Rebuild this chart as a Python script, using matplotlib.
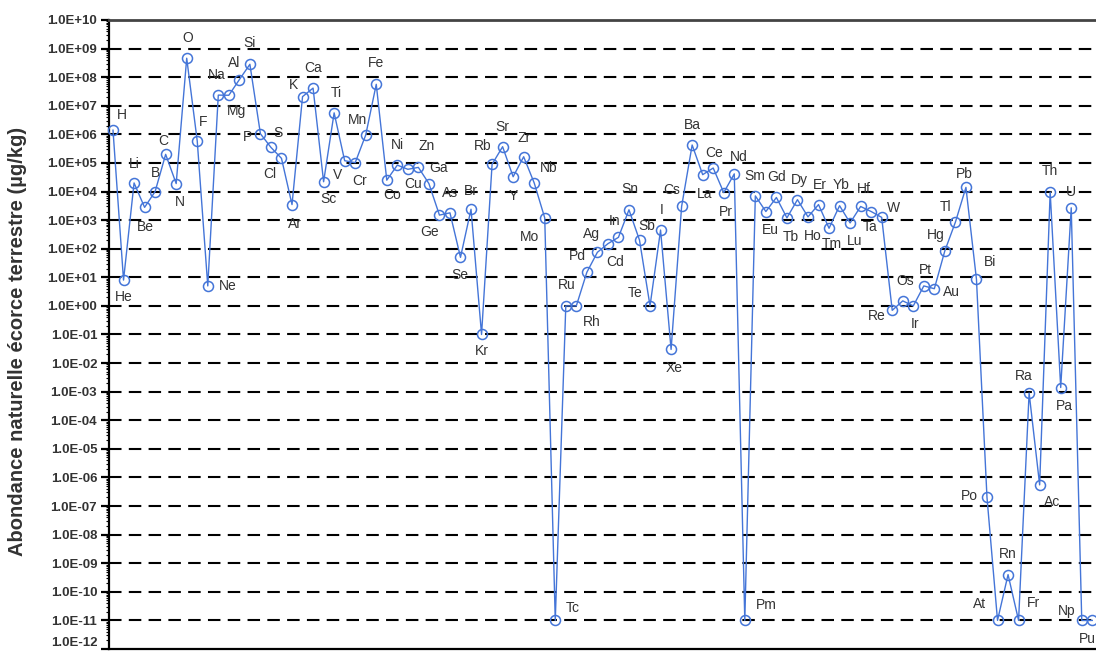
import matplotlib
matplotlib.use("Agg")
import matplotlib.pyplot as plt
from matplotlib.ticker import FixedLocator, LogLocator, FuncFormatter, NullFormatter
import numpy as np

plt.rcParams['font.family'] = ['Liberation Sans', 'DejaVu Sans']

# Element symbols, in order of atomic number (1..94)
elements = [
    "H", "He", "Li", "Be", "B", "C", "N", "O", "F", "Ne",
    "Na", "Mg", "Al", "Si", "P", "S", "Cl", "Ar", "K", "Ca",
    "Sc", "Ti", "V", "Cr", "Mn", "Fe", "Co", "Ni", "Cu", "Zn",
    "Ga", "Ge", "As", "Se", "Br", "Kr", "Rb", "Sr", "Y", "Zr",
    "Nb", "Mo", "Tc", "Ru", "Rh", "Pd", "Ag", "Cd", "In", "Sn",
    "Sb", "Te", "I", "Xe", "Cs", "Ba", "La", "Ce", "Pr", "Nd",
    "Pm", "Sm", "Eu", "Gd", "Tb", "Dy", "Ho", "Er", "Tm", "Yb",
    "Lu", "Hf", "Ta", "W", "Re", "Os", "Ir", "Pt", "Au", "Hg",
    "Tl", "Pb", "Bi", "Po", "At", "Rn", "Fr", "Ra", "Ac", "Th",
    "Pa", "U", "Np", "Pu",
]

# Natural abundance in the Earth's crust (µg/kg)
abundance = [
    1.4e6, 8.0, 2.0e4, 2.8e3, 1.0e4, 2.0e5, 1.9e4, 4.61e8, 5.85e5, 5.0,
    2.36e7, 2.33e7, 8.23e7, 2.82e8, 1.05e6, 3.5e5, 1.45e5, 3.5e3, 2.09e7, 4.15e7,
    2.2e4, 5.65e6, 1.2e5, 1.02e5, 9.5e5, 5.63e7, 2.5e4, 8.4e4, 6.0e4, 7.0e4,
    1.9e4, 1.5e3, 1.8e3, 50.0, 2.4e3, 0.1, 9.0e4, 3.7e5, 3.3e4, 1.65e5,
    2.0e4, 1.2e3, 1e-11, 1.0, 1.0, 15.0, 75.0, 150.0, 250.0, 2.3e3,
    200.0, 1.0, 450.0, 0.03, 3.0e3, 4.25e5, 3.9e4, 6.65e4, 9.2e3, 4.15e4,
    1e-11, 7.05e3, 2.0e3, 6.2e3, 1.2e3, 5.2e3, 1.3e3, 3.5e3, 520.0, 3.2e3,
    800.0, 3.0e3, 2.0e3, 1.25e3, 0.7, 1.5, 1.0, 5.0, 4.0, 85.0,
    850.0, 1.4e4, 8.5, 2.0e-7, 1e-11, 4.0e-10, 1e-11, 9.0e-4, 5.5e-7, 9.6e3,
    1.4e-3, 2.7e3, 1e-11, 1e-11,
]

atomic_number = np.arange(1, len(elements) + 1)

# Label offsets (pixels, x right / y down) for each symbol around its marker
label_offsets = {
    "H": (9, -15), "He": (0, 17), "Li": (0, -19), "Be": (1, 20), "B": (0, -19),
    "C": (-2, -13), "N": (4, 18), "O": (1, -20), "F": (6, -19), "Ne": (20, 0),
    "Na": (-2, -20), "Mg": (8, 16), "Al": (-5, -17), "Si": (0, -21), "P": (-13, 3),
    "S": (7, -14), "Cl": (-12, 16), "Ar": (3, 19), "K": (-9, -12), "Ca": (0, -20),
    "Sc": (5, 17), "Ti": (2, -20), "V": (-7, 14), "Cr": (4, 18), "Mn": (-8, -15),
    "Fe": (0, -21), "Co": (5, 15), "Ni": (0, -20), "Cu": (5, 15), "Zn": (8, -21),
    "Ga": (10, -16), "Ge": (-10, 17), "As": (0, -20), "Se": (-1, 18), "Br": (0, -18),
    "Kr": (0, 17), "Rb": (-9, -18), "Sr": (0, -20), "Y": (0, 19), "Zr": (0, -19),
    "Nb": (14, -15), "Mo": (-15, 19), "Tc": (17, -12), "Ru": (1, -21), "Rh": (15, 16),
    "Pd": (-9, -16), "Ag": (-6, -18), "Cd": (7, 18), "In": (-4, -16), "Sn": (1, -21),
    "Sb": (7, -14), "Te": (-15, -13), "I": (1, -20), "Xe": (3, 19), "Cs": (-10, -16),
    "Ba": (0, -20), "La": (2, 19), "Ce": (1, -15), "Pr": (2, 19), "Nd": (4, -17),
    "Pm": (22, -15), "Sm": (-1, -20), "Eu": (5, 18), "Gd": (0, -20), "Tb": (4, 19),
    "Dy": (2, -20), "Ho": (5, 19), "Er": (1, -20), "Tm": (3, 16), "Yb": (2, -21),
    "Lu": (5, 18), "Hf": (3, -17), "Ta": (-1, 15), "W": (12, -9), "Re": (-15, 6),
    "Os": (2, -20), "Ir": (2, 18), "Pt": (2, -16), "Au": (17, 3), "Hg": (-9, -16),
    "Tl": (-10, -15), "Pb": (-2, -13), "Bi": (14, -17), "Po": (-18, -1), "At": (-18, -16),
    "Rn": (0, -21), "Fr": (15, -17), "Ra": (-5, -17), "Ac": (12, 17), "Th": (0, -21),
    "Pa": (4, 18), "U": (0, -16), "Np": (-15, -9), "Pu": (-5, 19),
}

W, H = 1096, 658
DPI = 100
fig = plt.figure(figsize=(W / DPI, H / DPI), dpi=DPI)
fig.patch.set_facecolor("white")

left_px, right_px, top_px, bottom_px = 109, 1118, 20, 649
ax = fig.add_axes([left_px / W, 1 - bottom_px / H,
                   (right_px - left_px) / W, (bottom_px - top_px) / H])

line_color = "#4475d8"
text_color = "#333333"
y_min, y_max = 1e-12, 1e10

ax.set_yscale("log")
ax.set_ylim(y_min, y_max)
px_per_el = 10.53
x0 = 1 - (113 - left_px) / px_per_el
ax.set_xlim(x0, x0 + (right_px - left_px) / px_per_el)

# Dashed decade grid
for k in range(-11, 10):
    ax.axhline(10.0 ** k, color="black", lw=1.5, linestyle=(0, (6, 3.5)), zorder=1)

ax.plot(atomic_number, abundance, color=line_color, lw=1.0,
        marker="o", markersize=7.2, markerfacecolor="none",
        markeredgecolor=line_color, markeredgewidth=1.1, zorder=3, clip_on=False)

for z, sym, val in zip(atomic_number, elements, abundance):
    dx, dy = label_offsets[sym]
    ax.annotate(sym, (z, val), xytext=(dx * 0.72, -dy * 0.72),
                textcoords="offset points", ha="center", va="center",
                fontsize=10, color=text_color, zorder=4, annotation_clip=False)

# Axis styling
ax.spines["right"].set_visible(False)
ax.spines["top"].set_color("#444444")
ax.spines["top"].set_linewidth(2.0)
ax.spines["left"].set_color("black")
ax.spines["left"].set_linewidth(1.6)
ax.spines["bottom"].set_color("black")
ax.spines["bottom"].set_linewidth(1.6)

tick_len, tick_pad, tick_size = 5.5, 3, 9.5
ax.set_xticks([])
# decade ticks above the floor; the floor decade gets its own mark and label
ax.yaxis.set_major_locator(FixedLocator([10.0 ** k for k in range(-11, 11)]))
ax.yaxis.set_minor_locator(LogLocator(base=10, subs=np.arange(2, 10), numticks=40))
ax.yaxis.set_major_formatter(FuncFormatter(lambda v, p: f"{v:.1E}"))
ax.yaxis.set_minor_formatter(NullFormatter())
ax.tick_params(axis="y", which="major", direction="out", length=tick_len, width=1.6,
               labelsize=tick_size, labelcolor=text_color, pad=tick_pad)
ax.tick_params(axis="y", which="minor", direction="out", length=2.5, width=0.8)
for lbl in ax.get_yticklabels():
    lbl.set_fontweight("bold")

tick_frac = tick_len / 72 * DPI / (right_px - left_px)
ax.plot([-tick_frac, 0], [y_min, y_min], transform=ax.get_yaxis_transform(),
        color="black", lw=1.6, clip_on=False, solid_capstyle="butt")
ax.annotate(f"{y_min:.1E}", xy=(0, y_min), xycoords=("axes fraction", "data"),
            xytext=(-(tick_len + tick_pad), 2.2), textcoords="offset points",
            ha="right", va="baseline", fontsize=tick_size, fontweight="bold",
            color=text_color, annotation_clip=False)

fig.text(18 / W, 1 - 341 / H, "Abondance naturelle écorce terrestre (µg/kg)",
         rotation=90, ha="center", va="center", fontsize=14.5,
         fontweight="bold", color=text_color)

fig.savefig("out.png", dpi=DPI)
